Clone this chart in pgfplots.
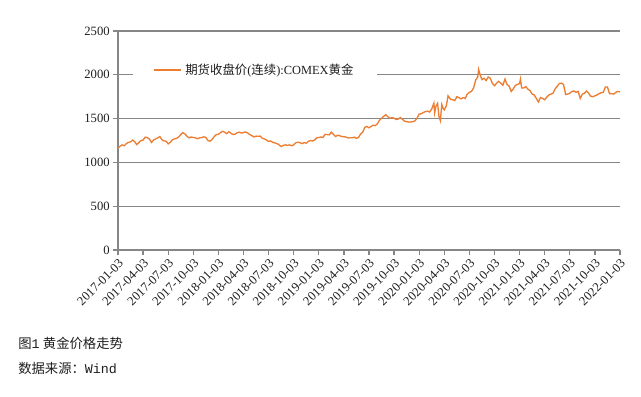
\documentclass[border=0pt]{standalone}
\usepackage{pgfplots}
\pgfplotsset{compat=1.18}
\usepackage{fontspec}
\setmainfont{Liberation Serif}
\setmonofont{Liberation Mono}
\newfontfamily\cjk{Noto Sans CJK SC}
\definecolor{goldline}{RGB}{237,125,49}
\definecolor{gridgray}{RGB}{134,134,134}
\definecolor{txt}{RGB}{30,30,30}
\begin{document}
\begin{tikzpicture}
\path[use as bounding box] (0pt,0pt) rectangle (480.75pt,297pt);
\begin{axis}[
  at={(88.5pt,109.5pt)}, anchor=south west,
  scale only axis, width=376.5pt, height=164.25pt,
  xmin=0, xmax=60, ymin=0, ymax=2500,
  axis x line=bottom, axis y line=left,
  axis line style={-, draw=gridgray, line width=1pt},
  ytick={0,500,1000,1500,2000,2500},
  xtick={0,3,...,60},
  xticklabels={2017-01-03,2017-04-03,2017-07-03,2017-10-03,2018-01-03,2018-04-03,2018-07-03,2018-10-03,2019-01-03,2019-04-03,2019-07-03,2019-10-03,2020-01-03,2020-04-03,2020-07-03,2020-10-03,2021-01-03,2021-04-03,2021-07-03,2021-10-03,2022-01-03},
  xticklabel style={rotate=45, anchor=north east, font=\fontsize{9.5}{11}\selectfont, text=txt, inner sep=1.5pt},
  yticklabel style={font=\fontsize{9.5}{11}\selectfont, text=txt, inner sep=2pt},
  /pgf/number format/assume math mode=true,
  /pgf/number format/1000 sep={},
  tick align=outside,
  major tick length=4pt,
  tick style={draw=gridgray, line width=1pt},
  ymajorgrids,
  grid style={draw=gridgray, line width=1pt},
  legend style={at={(0.030,0.822)}, anchor=west, draw=none, fill=white,
    inner xsep=15pt, inner ysep=5pt, font=\fontsize{9.3}{11}\selectfont, text=txt,
    nodes={inner xsep=3pt}},
  legend cell align=left,
  legend image code/.code={\draw[#1, line width=1pt] (0pt,0pt) -- (20pt,0pt);},
  clip=false,
]
\addplot[goldline, line width=1pt] coordinates {
(0.0,1162) (0.25,1185) (0.5,1200) (0.75,1190) (1.0,1215) (1.25,1228) (1.5,1235) (1.75,1255) (2.0,1235) (2.25,1203) (2.5,1228) (2.75,1250)
(3.0,1255) (3.25,1288) (3.5,1282) (3.75,1268) (4.0,1228) (4.25,1255) (4.5,1268) (4.75,1280) (5.0,1295) (5.25,1258) (5.5,1245) (5.75,1242)
(6.0,1212) (6.25,1230) (6.5,1258) (6.75,1268) (7.0,1275) (7.25,1290) (7.5,1318) (7.75,1340) (8.0,1325) (8.25,1298) (8.5,1280) (8.75,1290)
(9.0,1285) (9.25,1280) (9.5,1270) (9.75,1280) (10.0,1283) (10.25,1292) (10.5,1285) (10.75,1250) (11.0,1242) (11.25,1262) (11.5,1295) (11.75,1318)
(12.0,1320) (12.25,1340) (12.5,1355) (12.75,1345) (13.0,1328) (13.25,1350) (13.5,1332) (13.75,1318) (14.0,1322) (14.25,1340) (14.5,1345) (14.75,1335)
(15.0,1340) (15.25,1348) (15.5,1335) (15.75,1318) (16.0,1305) (16.25,1290) (16.5,1300) (16.75,1298) (17.0,1300) (17.25,1275) (17.5,1268) (17.75,1255)
(18.0,1240) (18.25,1245) (18.5,1228) (18.75,1222) (19.0,1215) (19.25,1200) (19.5,1180) (19.75,1195) (20.0,1200) (20.25,1195) (20.5,1200) (20.75,1190)
(21.0,1200) (21.25,1225) (21.5,1230) (21.75,1225) (22.0,1215) (22.25,1225) (22.5,1220) (22.75,1240) (23.0,1250) (23.25,1245) (23.5,1255) (23.75,1280)
(24.0,1285) (24.25,1290) (24.5,1285) (24.75,1320) (25.0,1318) (25.25,1315) (25.5,1345) (25.75,1320) (26.0,1295) (26.25,1310) (26.5,1305) (26.75,1295)
(27.0,1292) (27.25,1290) (27.5,1278) (27.75,1282) (28.0,1282) (28.25,1288) (28.5,1275) (28.75,1285) (29.0,1325) (29.25,1345) (29.5,1400) (29.75,1410)
(30.0,1395) (30.25,1410) (30.5,1425) (30.75,1420) (31.0,1440) (31.25,1480) (31.5,1505) (31.75,1525) (32.0,1545) (32.25,1520) (32.5,1505) (32.75,1510)
(33.0,1505) (33.25,1490) (33.5,1495) (33.75,1512) (34.0,1492) (34.25,1470) (34.5,1465) (34.75,1460) (35.0,1462) (35.25,1465) (35.5,1475) (35.75,1505)
(36.0,1552) (36.25,1555) (36.5,1570) (36.75,1580) (37.0,1585) (37.25,1575) (37.5,1610) (37.75,1675) (37.85,1565) (38.0,1640) (38.2,1675) (38.35,1530)
(38.53,1478) (38.7,1660) (38.85,1620) (39.0,1600) (39.25,1650) (39.45,1760) (39.75,1720) (40.0,1715) (40.25,1705) (40.5,1750) (40.75,1740) (41.0,1725)
(41.25,1740) (41.5,1730) (41.75,1780) (42.0,1800) (42.25,1810) (42.5,1850) (42.75,1940) (43.0,1975) (43.1,2060) (43.3,1995) (43.5,1945) (43.75,1960)
(44.0,1935) (44.25,1975) (44.5,1960) (44.75,1900) (45.0,1875) (45.25,1905) (45.5,1925) (45.75,1905) (46.0,1880) (46.25,1950) (46.5,1890) (46.75,1870)
(47.0,1810) (47.25,1840) (47.5,1880) (47.75,1890) (48.0,1900) (48.1,1950) (48.25,1850) (48.5,1850) (48.75,1865) (49.0,1835) (49.25,1820) (49.5,1780)
(49.75,1770) (50.0,1730) (50.25,1690) (50.5,1740) (50.75,1730) (51.0,1715) (51.25,1745) (51.5,1770) (51.75,1780) (52.0,1790) (52.25,1840) (52.5,1870)
(52.75,1900) (53.0,1905) (53.25,1890) (53.5,1775) (53.75,1780) (54.0,1790) (54.25,1810) (54.5,1815) (54.75,1800) (55.0,1810) (55.25,1730) (55.5,1780)
(55.75,1790) (56.0,1815) (56.25,1790) (56.5,1755) (56.75,1750) (57.0,1760) (57.25,1770) (57.5,1785) (57.75,1795) (58.0,1800) (58.25,1860) (58.5,1860)
(58.75,1785) (59.0,1785) (59.25,1780) (59.5,1800) (59.75,1810) (60.0,1805)
};
\addlegendentry{{\cjk 期货收盘价}({\cjk 连续}):COMEX{\cjk 黄金}}
\end{axis}
\node[anchor=west, inner sep=0pt, text=txt, font=\fontsize{10}{12}\selectfont] at (13.5pt,39.75pt) {{\cjk 图}\texttt{1} {\cjk 黄金价格走势}};
\node[anchor=west, inner sep=0pt, text=txt, font=\fontsize{10}{12}\selectfont] at (13.5pt,21pt) {{\cjk 数据来源：}\texttt{Wind}};
\end{tikzpicture}
\end{document}
